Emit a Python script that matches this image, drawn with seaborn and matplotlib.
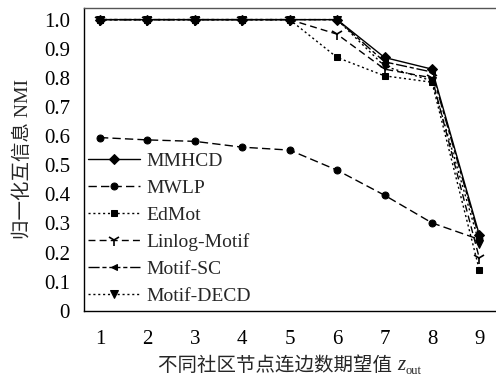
import matplotlib
matplotlib.use("Agg")
from matplotlib import pyplot as plt
import numpy as np
import pandas as pd
import seaborn as sns

# data
z_out = [1, 2, 3, 4, 5, 6, 7, 8, 9]
mmhcd = [1.0, 1.0, 1.0, 1.0, 1.0, 1.0, 0.87, 0.83, 0.26]
mwlp = [0.595, 0.587, 0.582, 0.562, 0.552, 0.483, 0.397, 0.302, 0.245]
edmot = [1.0, 1.0, 1.0, 1.0, 1.0, 0.87, 0.807, 0.785, 0.14]
linlog = [1.0, 1.0, 1.0, 1.0, 1.0, 0.95, 0.83, 0.80, 0.18]
motif_sc = [1.0, 1.0, 1.0, 1.0, 1.0, 1.0, 0.855, 0.82, 0.25]
motif_decd = [1.0, 1.0, 1.0, 1.0, 1.0, 1.0, 0.84, 0.79, 0.23]
methods = ['MMHCD', 'MWLP', 'EdMot', 'Linlog-Motif', 'Motif-SC', 'Motif-DECD']
yticks = [0, 0.1, 0.2, 0.3, 0.4, 0.5, 0.6, 0.7, 0.8, 0.9, 1.0]
ytick_labels = ['0', '0.1', '0.2', '0.3', '0.4', '0.5', '0.6', '0.7', '0.8', '0.9', '1.0']

df = pd.DataFrame({'z': z_out * 6,
                   'nmi': mmhcd + mwlp + edmot + linlog + motif_sc + motif_decd,
                   'method': np.repeat(methods, len(z_out))})

sns.set_style("white")
plt.rcParams['font.family'] = ['Liberation Serif', 'Noto Sans CJK SC']

styles = {
    'MMHCD': dict(linestyle='-', marker='D', markersize=5),
    'MWLP': dict(linestyle=(0, (6, 3)), marker='o', markersize=5),
    'EdMot': dict(linestyle=(0, (1.5, 2)), marker='s', markersize=5),
    'Linlog-Motif': dict(linestyle=(0, (5, 3)), marker='1', markersize=9, markeredgewidth=1.2),
    'Motif-SC': dict(linestyle=(0, (8, 2, 3, 2)), marker='<', markersize=5),
    'Motif-DECD': dict(linestyle=(0, (1.5, 2)), marker='v', markersize=6),
}

fig = plt.figure(figsize=(4.96, 3.8), dpi=100)
ax = fig.add_axes([0.169, 0.182, 0.831, 0.797])

for m in methods:
    sns.lineplot(data=df[df['method'] == m], x='z', y='nmi', ax=ax, color='black',
                 markeredgecolor='black', linewidth=1.0, label=m, **styles[m])

ax.set_xlim(0.66, 9.35)
ax.set_ylim(0, 1.04)
ax.set_xticks(z_out)
ax.set_yticks(yticks)
ax.set_yticklabels(ytick_labels)
ax.tick_params(direction='in', length=4, width=1, labelsize=15, colors='black')
ax.tick_params(axis='x', pad=14)
ax.tick_params(axis='y', pad=10)
for s in ['left', 'bottom', 'top']:
    ax.spines[s].set_color('black')
    ax.spines[s].set_linewidth(1.0)
ax.spines['top'].set_color('#555555')
ax.spines['right'].set_visible(False)

ax.set_xlabel('')
ax.set_ylabel('归一化互信息 NMI', fontsize=14)
ax.yaxis.set_label_coords(-0.125, 0.5)

ax.legend(loc='upper left', bbox_to_anchor=(0.0, 0.537), frameon=False, fontsize=14,
          handlelength=2.7, handletextpad=0.3, labelspacing=0.48, borderpad=0.1,
          borderaxespad=0.1)

# x label: chinese text + italic z with "out" subscript
ylab = 1 - 366 / 380
t1 = fig.text(0, ylab, '不同社区节点连边数期望值 ', fontsize=14, va='center')
t2 = fig.text(0, ylab, 'z', fontsize=15, style='italic', va='center')
t3 = fig.text(0, ylab - 0.012, 'out', fontsize=9, va='center')
fig.canvas.draw()
r = fig.canvas.get_renderer()
w1 = t1.get_window_extent(r).width / fig.bbox.width
w2 = t2.get_window_extent(r).width / fig.bbox.width
w3 = t3.get_window_extent(r).width / fig.bbox.width
x0 = 0.169 + 0.831 / 2 - (w1 + w2 + w3) / 2
t1.set_x(x0)
t2.set_x(x0 + w1)
t3.set_x(x0 + w1 + w2)

plt.savefig('out.png', dpi=100)
